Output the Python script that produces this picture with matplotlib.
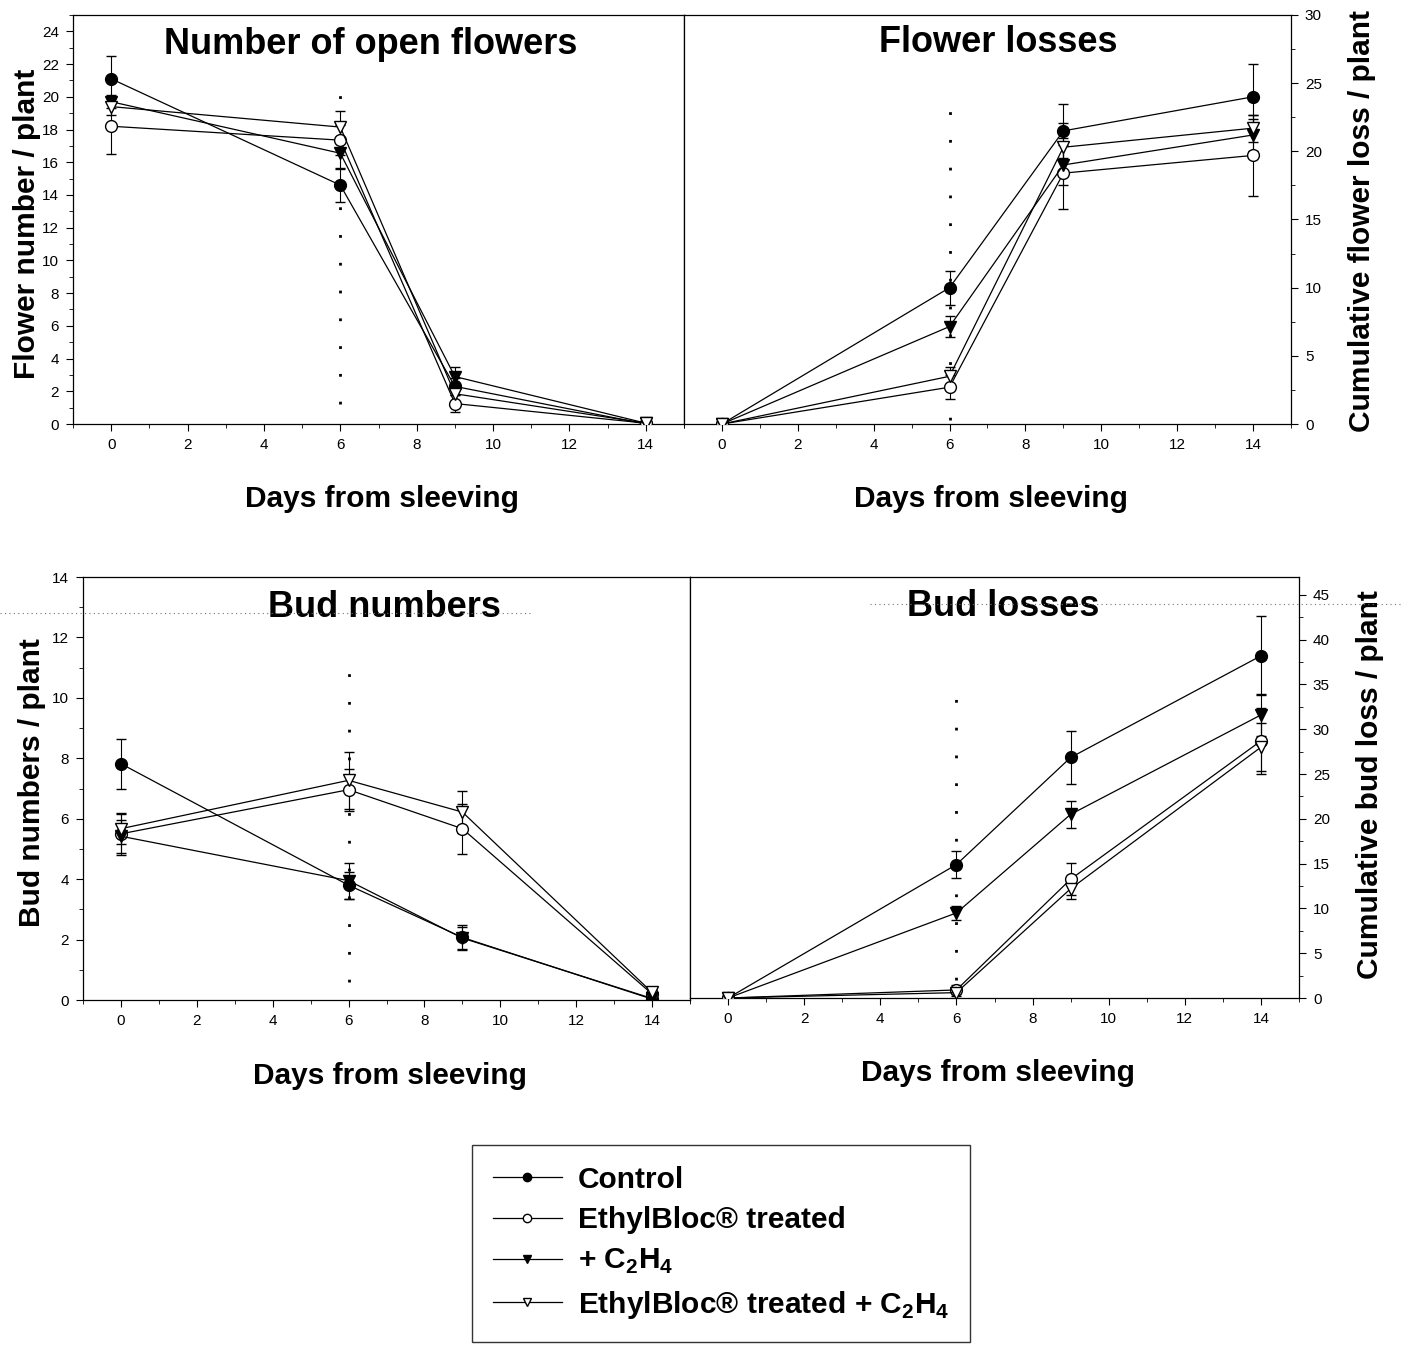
import matplotlib
matplotlib.use("Agg")
import matplotlib.pyplot as plt
from matplotlib.lines import Line2D
from matplotlib.ticker import MultipleLocator

# data: days from sleeving, means and error bars per treatment
days = [0, 6, 9, 14]

flowers_ctrl = [21.1, 14.6, 2.3, 0.0]
flowers_ctrl_err = [1.4, 1.0, 0.5, 0.0]
flowers_eb = [18.2, 17.35, 1.25, 0.05]
flowers_eb_err = [1.7, 0.9, 0.5, 0.0]
flowers_c2h4 = [19.7, 16.55, 2.9, 0.05]
flowers_c2h4_err = [0.4, 0.9, 0.6, 0.0]
flowers_ebc = [19.4, 18.15, 1.85, 0.05]
flowers_ebc_err = [0.5, 1.0, 0.5, 0.0]

floss_ctrl = [0.0, 10.0, 21.5, 24.0]
floss_ctrl_err = [0.0, 1.25, 2.0, 2.4]
floss_eb = [0.0, 2.7, 18.4, 19.7]
floss_eb_err = [0.0, 0.9, 2.6, 3.0]
floss_c2h4 = [0.0, 7.15, 19.0, 21.2]
floss_c2h4_err = [0.0, 0.8, 1.5, 1.2]
floss_ebc = [0.0, 3.5, 20.3, 21.7]
floss_ebc_err = [0.0, 0.7, 1.8, 1.0]

buds_ctrl = [7.82, 3.8, 2.07, 0.03]
buds_ctrl_err = [0.83, 0.45, 0.4, 0.0]
buds_eb = [5.5, 6.96, 5.67, 0.2]
buds_eb_err = [0.7, 0.7, 0.83, 0.1]
buds_c2h4 = [5.42, 3.95, 2.05, 0.05]
buds_c2h4_err = [0.55, 0.6, 0.35, 0.0]
buds_ebc = [5.67, 7.27, 6.22, 0.25]
buds_ebc_err = [0.5, 0.95, 0.7, 0.1]

bloss_ctrl = [0.0, 14.9, 26.85, 38.2]
bloss_ctrl_err = [0.0, 1.5, 3.0, 4.4]
bloss_eb = [0.0, 0.9, 13.26, 28.7]
bloss_eb_err = [0.0, 0.5, 1.8, 3.7]
bloss_c2h4 = [0.0, 9.5, 20.5, 31.6]
bloss_c2h4_err = [0.0, 0.8, 1.5, 2.3]
bloss_ebc = [0.0, 0.6, 12.2, 28.0]
bloss_ebc_err = [0.0, 0.4, 1.2, 2.7]

labels = ["Control", "EthylBloc\u00ae treated", r"+ C$_{\mathbf{2}}$H$_{\mathbf{4}}$",
          "EthylBloc\u00ae treated + C$_{\\mathbf{2}}$H$_{\\mathbf{4}}$"]
markers = ["o", "o", "v", "v"]
faces = ["black", "white", "black", "white"]

W, H = 1402, 1353
BOLD = "Liberation Sans"
LABEL_SIZE = 21.5


def box(l, t, r, b):
    # pixel box -> figure fraction rect
    return [l / W, 1 - b / H, (r - l) / W, (b - t) / H]


def draw_panel(ax, series, errs, ymax, ystep, title, title_xy, vline,
               side, ylabel, ylabel_xy, xlabel_y):
    for vals, err, m, fc in zip(series, errs, markers, faces):
        ax.errorbar(days, vals, yerr=err, color="black", lw=0.9, marker=m,
                    ms=8.5, mfc=fc, mec="black", mew=1.0, capsize=3.5,
                    elinewidth=0.8, capthick=0.8, zorder=3)
    # dotted marker line at day 6
    ax.plot([6, 6], vline, color="black", lw=2.0, ls=(0, (1, 9)), zorder=2)
    ax.set_xlim(-1, 15)
    ax.set_ylim(0, ymax)
    ax.xaxis.set_major_locator(MultipleLocator(2))
    ax.xaxis.set_minor_locator(MultipleLocator(1))
    ax.yaxis.set_major_locator(MultipleLocator(ystep))
    ax.yaxis.set_minor_locator(MultipleLocator(ystep / 2))
    if side == "right":
        ax.yaxis.tick_right()
        ax.yaxis.set_label_position("right")
    ax.tick_params(which="major", direction="out", length=5, width=0.8,
                   labelsize=11, pad=5)
    ax.tick_params(which="minor", direction="out", length=3, width=0.6)
    for sp in ax.spines.values():
        sp.set_linewidth(0.9)
    ax.text(title_xy[0], title_xy[1], title, transform=ax.transAxes,
            ha="center", va="center", fontsize=26, fontweight="bold")
    ax.set_xlabel("Days from sleeving", fontsize=LABEL_SIZE, fontweight="bold")
    ax.xaxis.set_label_coords(0.505, xlabel_y)
    ax.xaxis.label.set_va("center")
    ax.set_ylabel(ylabel, fontsize=LABEL_SIZE, fontweight="bold")
    ax.yaxis.set_label_coords(*ylabel_xy)
    ax.yaxis.label.set_va("center")


def main():
    plt.rcParams["font.family"] = [BOLD, "DejaVu Sans"]
    plt.rcParams["mathtext.fontset"] = "custom"
    plt.rcParams["mathtext.rm"] = "Liberation Sans:bold"
    plt.rcParams["mathtext.bf"] = "Liberation Sans:bold"

    fig = plt.figure(figsize=(W / 100, H / 100), dpi=100)

    ax1 = fig.add_axes(box(73, 15, 684, 424))
    ax2 = fig.add_axes(box(684, 15, 1291, 424))
    ax3 = fig.add_axes(box(83, 577, 690, 1000))
    ax4 = fig.add_axes(box(690, 577, 1299, 998))

    draw_panel(ax1, [flowers_ctrl, flowers_eb, flowers_c2h4, flowers_ebc],
               [flowers_ctrl_err, flowers_eb_err, flowers_c2h4_err, flowers_ebc_err],
               25, 2, "Number of open flowers", (0.487, 0.927), [1.2, 20.4],
               "left", "Flower number / plant", (-0.075, 0.49), -0.183)
    draw_panel(ax2, [floss_ctrl, floss_eb, floss_c2h4, floss_ebc],
               [floss_ctrl_err, floss_eb_err, floss_c2h4_err, floss_ebc_err],
               30, 5, "Flower losses", (0.517, 0.933), [0.3, 24.2],
               "right", "Cumulative flower loss / plant", (1.117, 0.496), -0.183)
    draw_panel(ax3, [buds_ctrl, buds_eb, buds_c2h4, buds_ebc],
               [buds_ctrl_err, buds_eb_err, buds_c2h4_err, buds_ebc_err],
               14, 2, "Bud numbers", (0.497, 0.927), [0.6, 11.1],
               "left", "Bud numbers / plant", (-0.084, 0.513), -0.18)
    draw_panel(ax4, [bloss_ctrl, bloss_eb, bloss_c2h4, bloss_ebc],
               [bloss_ctrl_err, bloss_eb_err, bloss_c2h4_err, bloss_ebc_err],
               47, 5, "Bud losses", (0.514, 0.93), [2.0, 35.5],
               "right", "Cumulative bud loss / plant", (1.117, 0.506), -0.178)

    # faint dotted scan lines across the lower panels
    fig.add_artist(Line2D([0, 530 / W], [1 - 613 / H] * 2, color="0.45",
                          lw=0.8, ls=(0, (1, 3))))
    fig.add_artist(Line2D([870 / W, 1], [1 - 604 / H] * 2, color="0.45",
                          lw=0.8, ls=(0, (1, 3))))

    # legend
    handles = [Line2D([], [], color="black", lw=0.9, marker=m, ms=6,
                      mfc=fc, mec="black") for m, fc in zip(markers, faces)]
    fig.legend(handles, labels, loc="upper left",
               bbox_to_anchor=(472 / W, 1 - 1145 / H),
               prop={"weight": "bold", "size": 21.5},
               frameon=True, fancybox=False, edgecolor="black",
               handlelength=2.3, handletextpad=0.55, labelspacing=0.42,
               borderpad=0.7, borderaxespad=0)

    fig.savefig("out.png", dpi=100)


if __name__ == "__main__":
    main()
